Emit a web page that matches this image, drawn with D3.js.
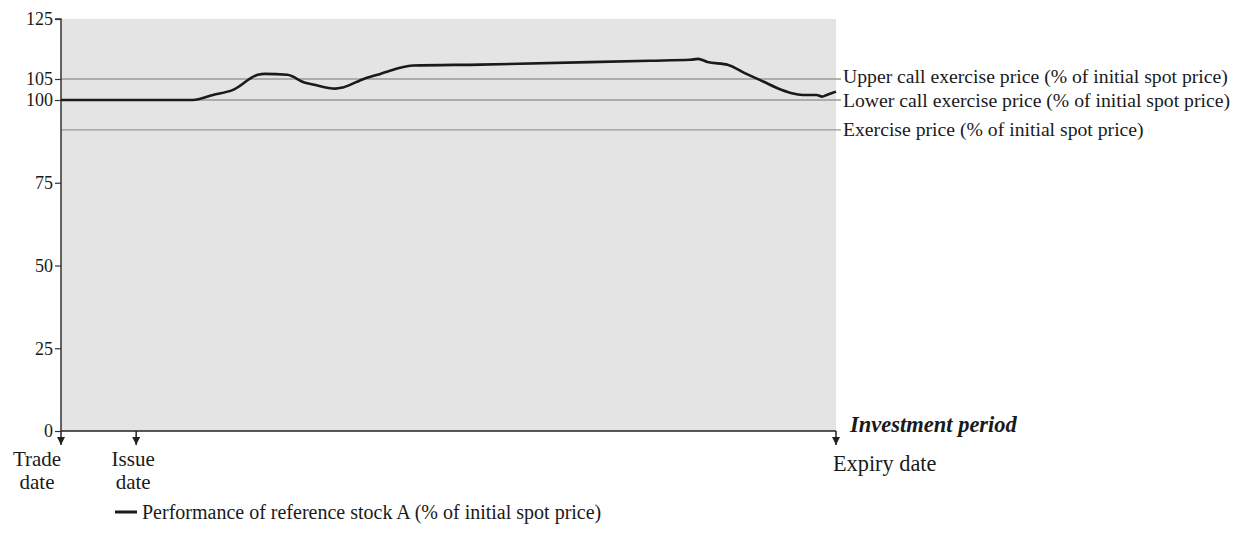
<!DOCTYPE html>
<html>
<head>
<meta charset="utf-8">
<script src="https://cdn.jsdelivr.net/npm/d3@7"></script>
<style>
  html, body { margin: 0; padding: 0; background: #fff; }
  svg text { font-family: "Liberation Serif", "Times New Roman", serif; fill: #1a1a1a; }
</style>
</head>
<body>
<svg id="chart" width="1233" height="552"></svg>
<script>
// ---- data ----
const yTicks = [0, 25, 50, 75, 100, 105, 125];
const perfX = [0, 17.0, 19.6, 22.2, 25.4, 26.3, 29.2, 31.5, 32.5, 35.4, 36.4, 39.2, 41.2, 45.4, 54.1, 76.0, 81.2, 82.2, 83.4, 86.1, 88.3, 90.6, 93.0, 94.3, 95.7, 97.5, 98.2, 98.8, 100];
const perfY = [100, 100, 101.2, 102.4, 106.4, 106.7, 106.4, 104.1, 103.7, 102.7, 103.0, 105.2, 106.7, 109.5, 109.8, 111.1, 111.4, 111.7, 110.7, 109.7, 106.9, 104.4, 102.4, 101.6, 101.2, 101.2, 100.8, 101.2, 102.0];
const levelNames = ["Upper call exercise price (% of initial spot price)", "Lower call exercise price (% of initial spot price)", "Exercise price (% of initial spot price)"];
const levelValues = [105, 100, 91];
const dateNames = [["Trade", "date"], ["Issue", "date"], ["Expiry date"]];
const dateValues = [0, 9.7, 100];
const xAxisTitle = "Investment period";
const legendLabel = "Performance of reference stock A (% of initial spot price)";

// ---- layout ----
const svg = d3.select("#chart");
const x = d3.scaleLinear().domain([0, 100]).range([61, 836]);
const y = d3.scaleLinear().domain([0, 100, 105, 125]).range([431, 100, 79, 19]);

// background
svg.append("rect").attr("x", x(0)).attr("y", y(125)).attr("width", x(100) - x(0)).attr("height", y(0) - y(125)).attr("fill", "#e4e4e4");

// level lines
svg.selectAll(".lvl").data(levelValues).enter().append("line")
  .attr("x1", x(0)).attr("x2", x(100) + 5)
  .attr("y1", d => y(d)).attr("y2", d => y(d))
  .attr("stroke", "#9a9a9a").attr("stroke-width", 1.3);

svg.selectAll(".lvlText").data(levelValues).enter().append("text")
  .attr("x", x(100) + 7)
  .attr("y", (d, i) => y(d) + [4, 7, 6][i])
  .attr("font-size", "19.7px")
  .text((d, i) => levelNames[i]);

// y axis
const yAxis = d3.axisLeft(y).tickValues(yTicks).tickSize(6).tickPadding(2).tickFormat(d3.format("d"));
const gy = svg.append("g").attr("transform", `translate(${x(0)},0)`).call(yAxis);
gy.select(".domain").attr("stroke", "#333").attr("stroke-width", 1.5).attr("d", `M-6,${y(125)}H0V${y(0)}`);
gy.selectAll(".tick line").attr("stroke", "#333").attr("stroke-width", 1.2);
gy.selectAll(".tick text").attr("font-family", "Liberation Serif").attr("font-size", "18px").attr("fill", "#1a1a1a");

// x axis baseline
svg.append("line").attr("x1", x(0)).attr("x2", x(100)).attr("y1", y(0)).attr("y2", y(0)).attr("stroke", "#222").attr("stroke-width", 1.5);

// arrows
svg.append("defs").append("marker").attr("id", "ah").attr("viewBox", "0 0 10 10").attr("refX", 10).attr("refY", 5)
  .attr("markerWidth", 8).attr("markerHeight", 8).attr("markerUnits", "userSpaceOnUse").attr("orient", "auto")
  .append("path").attr("d", "M0,0L10,5L0,10Z").attr("fill", "#222");
svg.selectAll(".arr").data(dateValues).enter().append("line")
  .attr("x1", d => x(d)).attr("x2", d => x(d))
  .attr("y1", y(0)).attr("y2", y(0) + 14)
  .attr("stroke", "#222").attr("stroke-width", 1.5).attr("marker-end", "url(#ah)");

// date labels
const anchors = ["middle", "middle", "start"];
const offs = [-24, -3, -3];
dateValues.forEach((d, i) => {
  const t = svg.append("text").attr("font-size", i === 2 ? "22.3px" : "21px").attr("text-anchor", anchors[i]);
  dateNames[i].forEach((s, j) => {
    t.append("tspan").attr("x", x(d) + offs[i]).attr("y", (i === 2 ? 471 : 466) + j * 23).text(s);
  });
});

svg.append("text").attr("x", 850).attr("y", 432).attr("font-size", "22.5px").attr("font-weight", "bold").attr("font-style", "italic").text(xAxisTitle);

// performance line
const pts = perfX.map((v, i) => [v, perfY[i]]);
svg.append("path").datum(pts)
  .attr("d", d3.line().x(d => x(d[0])).y(d => y(d[1])).curve(d3.curveMonotoneX))
  .attr("fill", "none").attr("stroke", "#1a1a1a").attr("stroke-width", 2.6).attr("stroke-linejoin", "round");

// legend
svg.append("line").attr("x1", 115).attr("x2", 137).attr("y1", 512).attr("y2", 512).attr("stroke", "#1a1a1a").attr("stroke-width", 3);
svg.append("text").attr("x", 142).attr("y", 519).attr("font-size", "20px").text(legendLabel);
</script>
</body>
</html>
